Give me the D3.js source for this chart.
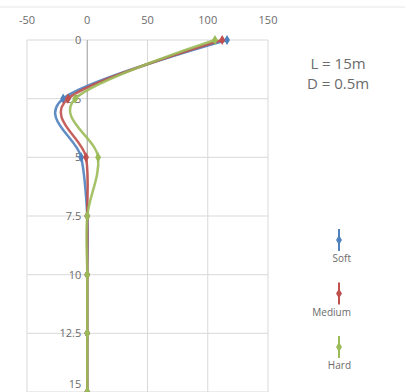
<!DOCTYPE html>
<html>
<head>
<meta charset="utf-8">
<script src="https://cdn.jsdelivr.net/npm/d3@7"></script>
<style>
  body { margin: 0; background: #fff; }
  svg { display: block; font-family: "Open Sans", "DejaVu Sans", sans-serif; }
</style>
</head>
<body>
<script>
// depth (m) and values
var depths = [0, 2.5, 5, 7.5, 10, 12.5, 15];
var soft   = [116, -20, -5, 0, 0, 0, 0];
var medium = [112, -16, -1, 0, 0, 0, 0];
var hard   = [106, -10, 9, 0, 0, 0, 0];
var seriesNames = ["Soft", "Medium", "Hard"];
var seriesColors = ["#4f81bd", "#c0504d", "#9bbb59"];
var xTicks = [-50, 0, 50, 100, 150];
var yTicks = [0, 2.5, 5, 7.5, 10, 12.5, 15];
var notes = ["L = 15m", "D = 0.5m"];

var width = 405, height = 392;

var svg = d3.select("body").append("svg")
	.attr("width", width)
	.attr("height", height);

var x = d3.scaleLinear().domain([-50, 150]).range([27, 268]);
var y = d3.scaleLinear().domain([0, 15]).range([40, 392]);

// faint outer border
svg.append("line")
	.attr("x1", 0).attr("x2", width)
	.attr("y1", 7).attr("y2", 7)
	.attr("stroke", "#e6e6e6");

// gridlines
svg.append("g").selectAll("line").data(xTicks).enter().append("line")
	.attr("x1", function(d) { return x(d); })
	.attr("x2", function(d) { return x(d); })
	.attr("y1", y(0)).attr("y2", y(15))
	.attr("stroke", "#d9d9d9");
svg.append("g").selectAll("line").data(yTicks).enter().append("line")
	.attr("x1", x(-50)).attr("x2", x(150))
	.attr("y1", function(d) { return y(d); })
	.attr("y2", function(d) { return y(d); })
	.attr("stroke", "#d9d9d9");

// vertical axis at x = 0
svg.append("line")
	.attr("x1", x(0)).attr("x2", x(0))
	.attr("y1", y(0)).attr("y2", y(15))
	.attr("stroke", "#a6a6a6");

// top tick labels
svg.append("g").selectAll("text").data(xTicks).enter().append("text")
	.attr("x", function(d) { return x(d); })
	.attr("y", 24)
	.attr("text-anchor", "middle")
	.attr("font-size", 11)
	.attr("fill", "#6b6b6b")
	.text(function(d) { return d; });

// depth labels next to the axis (keep the last one inside the frame)
svg.append("g").selectAll("text").data(yTicks).enter().append("text")
	.attr("x", x(0) - 6)
	.attr("y", function(d) { return Math.min(y(d) + 4, height - 4); })
	.attr("text-anchor", "end")
	.attr("font-size", 11)
	.attr("fill", "#6b6b6b")
	.text(function(d) { return d; });

var all = [soft, medium, hard];
var line = d3.line()
	.x(function(d) { return x(d[0]); })
	.y(function(d) { return y(d[1]); })
	.curve(d3.curveCardinal.tension(0));

var diamond = d3.symbol().type(d3.symbolDiamond).size(30);

all.forEach(function(vals, i) {
	var pts = vals.map(function(v, j) { return [v, depths[j]]; });
	svg.append("path")
		.attr("d", line(pts))
		.attr("fill", "none")
		.attr("stroke", seriesColors[i])
		.attr("stroke-width", 2.5)
		.attr("stroke-opacity", 0.9);
	svg.append("g").selectAll("path").data(pts).enter().append("path")
		.attr("d", diamond)
		.attr("transform", function(d) { return "translate(" + x(d[0]) + "," + y(d[1]) + ")"; })
		.attr("fill", seriesColors[i]);
});

// notes
svg.append("g").selectAll("text").data(notes).enter().append("text")
	.attr("x", 338)
	.attr("y", function(d, i) { return 69 + i * 20; })
	.attr("text-anchor", "middle")
	.attr("font-size", 15)
	.attr("fill", "#6b6b6b")
	.text(function(d) { return d; });

// legend
var leg = svg.append("g").selectAll("g").data(seriesNames).enter().append("g")
	.attr("transform", function(d, i) { return "translate(339," + (240 + i * 53.5) + ")"; });
leg.append("line")
	.attr("y1", -11).attr("y2", 11)
	.attr("stroke", function(d, i) { return seriesColors[i]; })
	.attr("stroke-width", 2);
leg.append("path")
	.attr("d", diamond)
	.attr("fill", function(d, i) { return seriesColors[i]; });
leg.append("text")
	.attr("x", 12)
	.attr("y", 22)
	.attr("text-anchor", "end")
	.attr("font-size", 10)
	.attr("fill", "#6b6b6b")
	.text(function(d) { return d; });
</script>
</body>
</html>
